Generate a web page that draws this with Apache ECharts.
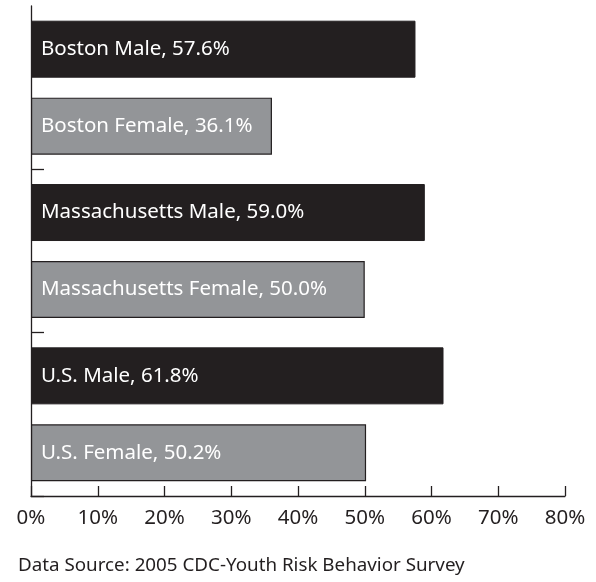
<!DOCTYPE html>
<html>
<head>
<meta charset="utf-8">
<script src="https://cdn.jsdelivr.net/npm/echarts@6/dist/echarts.min.js"></script>
<style>
  html, body { margin: 0; padding: 0; background: #fff; }
  #chart { width: 596px; height: 582px; }
</style>
</head>
<body>
<div id="chart"></div>
<script>
// data
var places = ['Boston', 'Massachusetts', 'U.S.']
var maleValues = [57.6, 59.0, 61.8]
var femaleValues = [36.1, 50.0, 50.2]
var source = 'Data Source: 2005 CDC-Youth Risk Behavior Survey'

var ink = '#231f20'
var grey = '#939598'

var chart = echarts.init(document.getElementById('chart'))

function barLabel(p) {
  return p.name + ' ' + p.seriesName + ', ' + p.value.toFixed(1) + '%'
}

var labelStyle = {
  show: true,
  position: 'insideLeft',
  distance: 10,
  color: '#fff',
  fontFamily: 'Noto Sans',
  fontSize: 20.5,
  formatter: barLabel
}

chart.setOption({
  animation: false,
  grid: { left: 31, right: 31, top: 6, bottom: 86 },
  xAxis: {
    type: 'value',
    min: 0,
    max: 80,
    interval: 10,
    splitLine: { show: false },
    axisLine: { show: true, lineStyle: { color: ink, width: 1.3 } },
    axisTick: { show: true, inside: true, length: 10, lineStyle: { color: ink, width: 1.3 } },
    axisLabel: {
      formatter: '{value}%',
      color: ink,
      fontFamily: 'Noto Sans',
      fontSize: 20.5,
      margin: 12
    }
  },
  yAxis: {
    type: 'category',
    inverse: true,
    data: places,
    axisLine: { show: true, lineStyle: { color: ink, width: 1.3 } },
    axisTick: {
      show: true,
      inside: true,
      length: 13,
      lineStyle: { color: ink, width: 1.3 },
      interval: function (i) { return i !== 0 }
    },
    axisLabel: { show: false }
  },
  series: [
    {
      name: 'Male',
      type: 'bar',
      data: maleValues,
      barWidth: 57,
      barGap: '35%',
      itemStyle: { color: ink, borderColor: ink, borderWidth: 1 },
      label: labelStyle
    },
    {
      name: 'Female',
      type: 'bar',
      data: femaleValues,
      barWidth: 57,
      itemStyle: { color: grey, borderColor: ink, borderWidth: 1.2 },
      label: labelStyle
    }
  ],
  graphic: [{
    type: 'text',
    left: 18,
    top: 556,
    style: { text: source, fill: ink, font: '18.8px "Noto Sans"' }
  }]
})
</script>
</body>
</html>
